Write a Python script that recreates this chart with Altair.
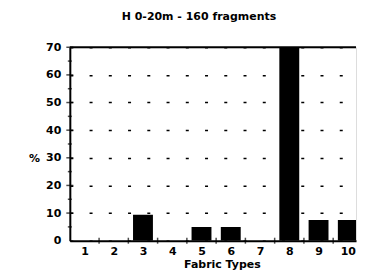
import altair as alt
import pandas as pd

categories = [1, 2, 3, 4, 5, 6, 7, 8, 9, 10]
percent = [0, 0, 9.4, 0, 5, 5, 0, 70, 7.5, 7.5]
y_ticks = [0, 10, 20, 30, 40, 50, 60, 70]
y_minor = [5, 15, 25, 35, 45, 55, 65]
x_bounds = [1.5, 2.5, 3.5, 4.5, 5.5, 6.5, 7.5, 8.5, 9.5]

df = pd.DataFrame({"cat": categories, "pct": percent})
df["x0"] = df["cat"] - 0.34
df["x1"] = df["cat"] + 0.34
df["base"] = 0

FONT = "DejaVu Sans"
xscale = alt.Scale(domain=[0.5, 10.28], nice=False, zero=False)
yscale = alt.Scale(domain=[0, 70], nice=False)

xaxis = alt.Axis(values=categories, format="d", grid=False, ticks=False,
                 domainColor="black", domainWidth=2, labelOverlap=False, labelFlush=False,
                 labelFont=FONT, labelFontWeight="bold", labelFontSize=11,
                 labelColor="black", labelPadding=5,
                 title="Fabric Types", titleFont=FONT, titleFontWeight="bold",
                 titleFontSize=11, titleColor="black", titlePadding=2, titleX=152.5)
yaxis = alt.Axis(values=y_ticks, grid=True, gridColor="black", gridWidth=1.5,
                 gridDash=[3, 16.3], ticks=False, domainColor="black", domainWidth=2,
                 labelOverlap=False, labelFlush=False,
                 labelFont=FONT, labelFontWeight="bold", labelFontSize=11,
                 labelColor="black", labelPadding=9,
                 title="%", titleAngle=0, titleX=-36, titleY=112,
                 titleAlign="center", titleBaseline="middle",
                 titleFont=FONT, titleFontWeight="bold", titleFontSize=11,
                 titleColor="black")

bars = alt.Chart(df).mark_rect(color="black", clip=True).encode(
    x=alt.X("x0:Q", scale=xscale, axis=xaxis),
    x2="x1:Q",
    y=alt.Y("pct:Q", scale=yscale, axis=yaxis),
    y2="base:Q",
)

top_df = pd.DataFrame({"y": [70]})
top_rule = alt.Chart(top_df).mark_rule(color="black", strokeWidth=2).encode(
    y=alt.Y("y:Q", scale=yscale, axis=yaxis)
)

ymaj_df = pd.DataFrame({"y": y_ticks[1:], "x": [0.5] * (len(y_ticks) - 1)})
ymaj = alt.Chart(ymaj_df).mark_tick(color="black", orient="horizontal", size=7, thickness=1.5).encode(
    x=alt.X("x:Q", scale=xscale, axis=xaxis), y=alt.Y("y:Q", scale=yscale, axis=yaxis)
)
ymin_df = pd.DataFrame({"y": y_minor, "x": [0.5] * len(y_minor)})
ymin = alt.Chart(ymin_df).mark_tick(color="black", orient="horizontal", size=4, thickness=1.5).encode(
    x=alt.X("x:Q", scale=xscale, axis=xaxis), y=alt.Y("y:Q", scale=yscale, axis=yaxis)
)
xt_df = pd.DataFrame({"x": x_bounds, "y": [0] * len(x_bounds)})
xt = alt.Chart(xt_df).mark_tick(color="black", orient="vertical", size=6, thickness=1.5).encode(
    x=alt.X("x:Q", scale=xscale, axis=xaxis), y=alt.Y("y:Q", scale=yscale, axis=yaxis)
)

chart = alt.layer(bars, top_rule, ymaj, ymin, xt).properties(
    width=287, height=194,
    title=alt.TitleParams("H 0-20m - 160 fragments", font=FONT, fontSize=11,
                          fontWeight="bold", color="black", anchor="middle", dx=-14, offset=19),
    padding={"left": 20, "top": 3, "right": 0, "bottom": 0},
).configure_view(stroke=None).configure(background="white")

chart.save("out.html", embed_options={"renderer": "svg", "actions": False})
